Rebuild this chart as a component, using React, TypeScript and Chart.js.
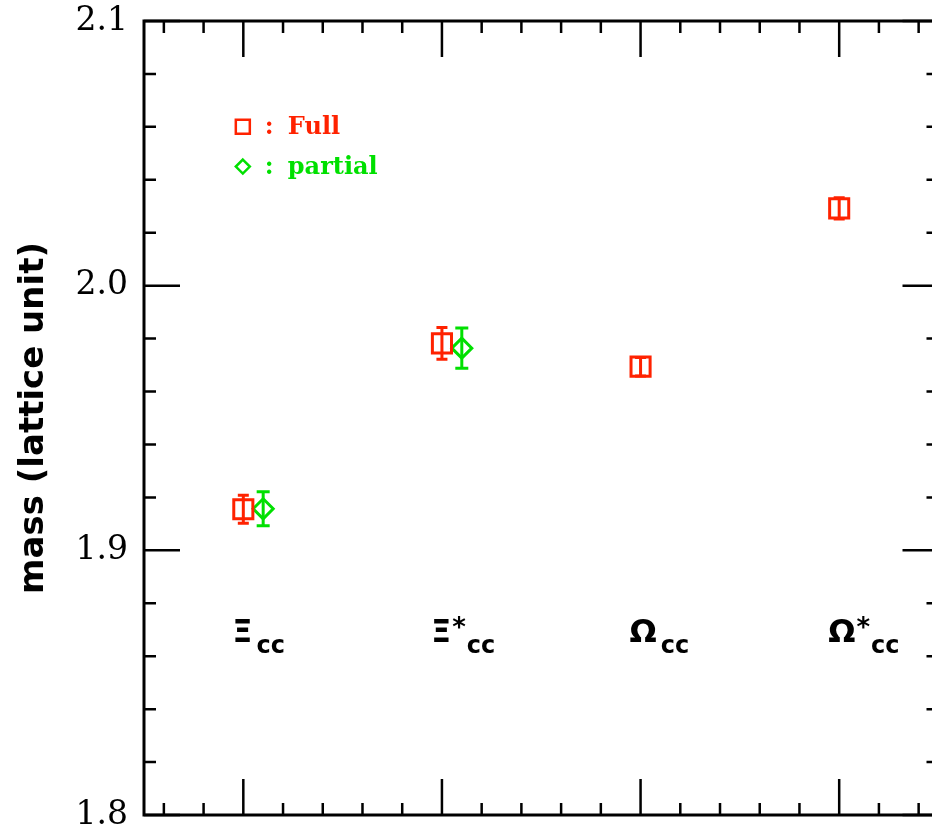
import React, { useEffect, useRef } from "react";
import { Chart, registerables } from "chart.js";

Chart.register(...registerables);

// ---- data ----
const categorySymbols = ["Ξ", "Ξ", "Ω", "Ω"];
const categoryStars = [false, true, false, true];
const categorySubscripts = ["cc", "cc", "cc", "cc"];
const categoryX = [1, 2, 3, 4];

const fullX = [1, 2, 3, 4];
const fullY = [1.9155, 1.9782, 1.9694, 2.0292];
const fullErr = [0.0053, 0.006, 0.0035, 0.004];

const partialX = [1.1, 2.1];
const partialY = [1.9157, 1.9764];
const partialErr = [0.0064, 0.0076];

const yTickLabels = ["1.8", "1.9", "2.0", "2.1"];
const legendLabels = ["Full", "partial"];
const legendY = [2.06, 2.045];
const yTitle = "mass (lattice unit)";

const RED = "#ff2200";
const GREEN = "#00e000";

const errs: number[][] = [fullErr, partialErr];

const framePlugin = {
  id: "frameTicks",
  afterDraw(chart: any) {
    const { ctx, chartArea: a, scales } = chart;
    const xs = scales.x;
    const ys = scales.y;
    ctx.save();
    ctx.strokeStyle = "#000";
    ctx.lineWidth = 3;
    ctx.lineCap = "butt";
    ctx.strokeRect(a.left, a.top, a.right - a.left, a.bottom - a.top);
    ctx.lineWidth = 2.5;
    // y ticks
    for (let k = 0; k <= 15; k++) {
      const v = 1.8 + k * 0.02;
      const y = ys.getPixelForValue(v);
      const len = k % 5 === 0 ? 36 : 12;
      ctx.beginPath();
      ctx.moveTo(a.left, y);
      ctx.lineTo(a.left + len, y);
      ctx.moveTo(a.right, y);
      ctx.lineTo(a.right - len, y);
      ctx.stroke();
    }
    // x ticks
    for (let k = 0; k < 20; k++) {
      const v = 0.6 + k * 0.2;
      const x = xs.getPixelForValue(v);
      const major = Math.abs(v - Math.round(v)) < 1e-6;
      const len = major ? 36 : 12;
      ctx.beginPath();
      ctx.moveTo(x, a.bottom);
      ctx.lineTo(x, a.bottom - len);
      ctx.moveTo(x, a.top);
      ctx.lineTo(x, a.top + len);
      ctx.stroke();
    }
    // y tick labels
    ctx.fillStyle = "#000";
    ctx.font = "33px 'DejaVu Serif'";
    ctx.textAlign = "right";
    ctx.textBaseline = "middle";
    yTickLabels.forEach((l) => {
      const y = ys.getPixelForValue(parseFloat(l));
      ctx.fillText(l, a.left - 16, y);
    });
    ctx.restore();
  },
};

const errorBarPlugin = {
  id: "errorBars",
  afterDatasetsDraw(chart: any) {
    const { ctx, scales } = chart;
    ctx.save();
    chart.data.datasets.forEach((ds: any) => {
      const e = errs[ds.errIndex];
      if (!e) return;
      ctx.strokeStyle = ds.borderColor;
      ctx.lineWidth = 3;
      ds.data.forEach((p: any, i: number) => {
        const x = scales.x.getPixelForValue(p.x);
        const y1 = scales.y.getPixelForValue(p.y + e[i]);
        const y2 = scales.y.getPixelForValue(p.y - e[i]);
        const cw = ds.capWidth;
        ctx.beginPath();
        ctx.moveTo(x, y1);
        ctx.lineTo(x, y2);
        ctx.moveTo(x - cw / 2, y1);
        ctx.lineTo(x + cw / 2, y1);
        ctx.moveTo(x - cw / 2, y2);
        ctx.lineTo(x + cw / 2, y2);
        ctx.stroke();
      });
    });
    ctx.restore();
  },
};

const annotationPlugin = {
  id: "annotations",
  afterDraw(chart: any) {
    const { ctx, scales } = chart;
    ctx.save();
    // category labels
    const baseY = scales.y.getPixelForValue(1.8655);
    categorySymbols.forEach((sym, i) => {
      let x = scales.x.getPixelForValue(categoryX[i]) - 11;
      ctx.fillStyle = "#000";
      ctx.textAlign = "left";
      ctx.textBaseline = "alphabetic";
      ctx.font = "bold 32px 'DejaVu Sans'";
      ctx.fillText(sym, x, baseY);
      x += ctx.measureText(sym).width + 1;
      if (categoryStars[i]) {
        ctx.font = "bold 26px 'DejaVu Sans'";
        ctx.fillText("*", x, baseY - 6);
        x += ctx.measureText("*").width + 1;
      } else {
        x += 3;
      }
      ctx.font = "bold 24px 'DejaVu Sans'";
      ctx.fillText(categorySubscripts[i], x, baseY + 11);
    });
    // legend
    const lx = scales.x.getPixelForValue(1) - 0.5;
    const colors = [RED, GREEN];
    legendLabels.forEach((lab, i) => {
      const y = scales.y.getPixelForValue(legendY[i]);
      ctx.strokeStyle = colors[i];
      ctx.lineWidth = 2.5;
      ctx.beginPath();
      if (i === 0) {
        ctx.rect(lx - 7, y - 7, 14, 14);
      } else {
        ctx.moveTo(lx, y - 7);
        ctx.lineTo(lx + 7, y);
        ctx.lineTo(lx, y + 7);
        ctx.lineTo(lx - 7, y);
        ctx.closePath();
      }
      ctx.stroke();
      ctx.fillStyle = colors[i];
      ctx.font = "bold 24px 'DejaVu Serif'";
      ctx.textAlign = "left";
      ctx.textBaseline = "middle";
      ctx.fillText(":", lx + 22, y + 1);
      ctx.fillText(lab, lx + 45, y + 1);
    });
    ctx.restore();
  },
};

const CANVAS_W = 955;
const CANVAS_H = 833;

export default function App() {
  const ref = useRef<HTMLCanvasElement | null>(null);
  useEffect(() => {
    if (!ref.current) return;
    const chart = new Chart(ref.current, {
      type: "scatter",
      data: {
        datasets: [
          {
            label: "Full",
            data: fullX.map((x, i) => ({ x, y: fullY[i] })),
            borderColor: RED,
            backgroundColor: "rgba(0,0,0,0)",
            pointStyle: "rect",
            pointRadius: 13.5,
            pointBorderWidth: 3,
            errIndex: 0,
            capWidth: 11,
          } as any,
          {
            label: "partial",
            data: partialX.map((x, i) => ({ x, y: partialY[i] })),
            borderColor: GREEN,
            backgroundColor: "rgba(0,0,0,0)",
            pointStyle: "rectRot",
            pointRadius: 10,
            pointBorderWidth: 3,
            errIndex: 1,
            capWidth: 13,
          } as any,
        ],
      },
      options: {
        animation: false,
        responsive: false,
        layout: { padding: { top: 21, right: 8, left: 0, bottom: 0 } },
        plugins: { legend: { display: false }, tooltip: { enabled: false } },
        scales: {
          x: {
            type: "linear",
            min: 0.5,
            max: 4.5,
            grid: { display: false, drawTicks: false },
            border: { display: false },
            ticks: { display: false },
            afterFit: (s: any) => {
              s.height = 18;
            },
          },
          y: {
            type: "linear",
            min: 1.8,
            max: 2.1,
            grid: { display: false, drawTicks: false },
            border: { display: false },
            ticks: { display: false },
            title: {
              display: true,
              text: yTitle,
              color: "#000",
              font: { family: "'DejaVu Sans'", size: 34, weight: "bold" },
              padding: { top: 14, bottom: 0 },
            },
            afterFit: (s: any) => {
              s.width = 144;
            },
          },
        },
      },
      plugins: [framePlugin, errorBarPlugin, annotationPlugin],
    } as any);
    return () => chart.destroy();
  }, []);
  return (
    <div
      style={{
        position: "fixed",
        left: 0,
        top: 0,
        width: 932,
        height: 833,
        overflow: "hidden",
        background: "#fff",
      }}
    >
      <div style={{ position: "absolute", left: 0, top: 0, width: CANVAS_W, height: CANVAS_H }}>
        <canvas
          ref={ref}
          width={CANVAS_W}
          height={CANVAS_H}
          style={{ display: "block", width: CANVAS_W, height: CANVAS_H }}
        />
      </div>
    </div>
  );
}
